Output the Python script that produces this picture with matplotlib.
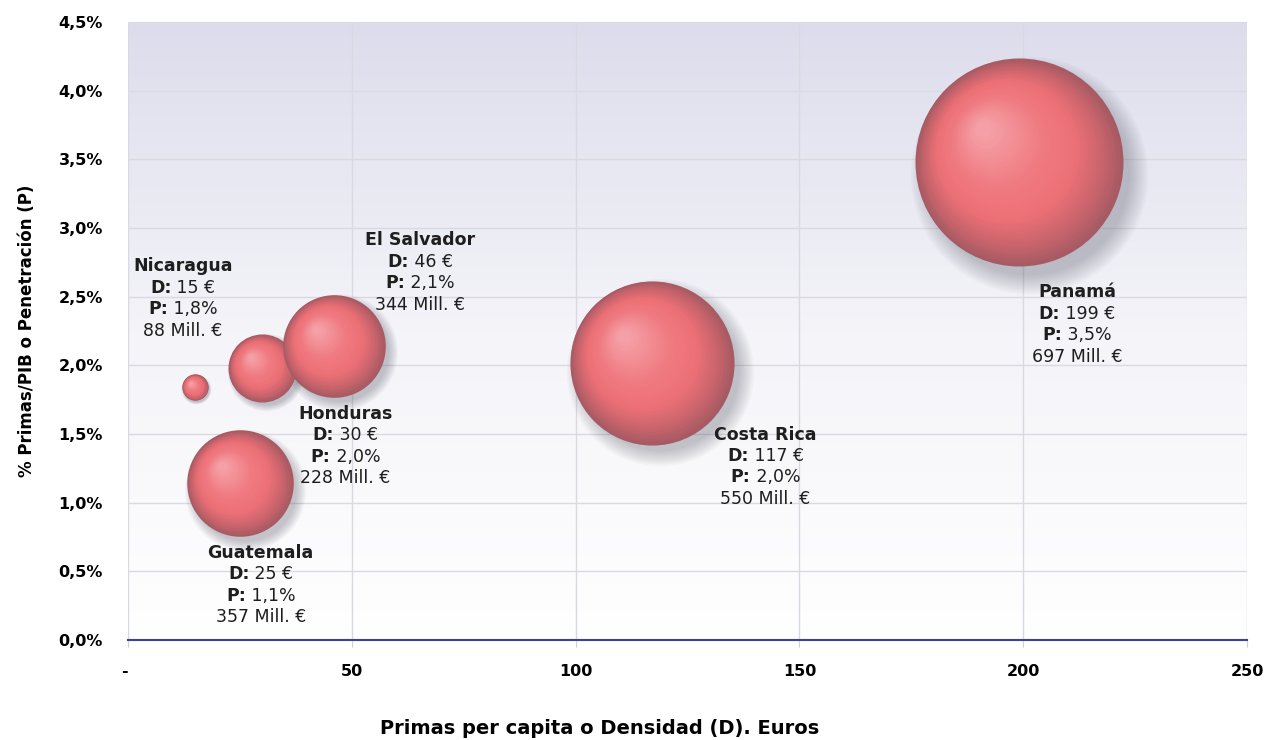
import matplotlib
matplotlib.use("Agg")
import matplotlib.pyplot as plt
import matplotlib.transforms as mtransforms
from matplotlib.offsetbox import TextArea, HPacker, VPacker, AnnotationBbox
from matplotlib.colors import LinearSegmentedColormap
import numpy as np

# data
countries = ["Nicaragua", "Honduras", "El Salvador", "Guatemala", "Costa Rica", "Panamá"]
densidad = [15, 30, 46, 25, 117, 199]            # D, euros per capita
penetracion = [1.84, 1.98, 2.14, 1.14, 2.02, 3.48]  # P, % of GDP
primas = [88, 228, 344, 357, 550, 697]           # Mill. euros (bubble size)

x_ticks = [0, 50, 100, 150, 200, 250]
y_ticks = [0.0, 0.5, 1.0, 1.5, 2.0, 2.5, 3.0, 3.5, 4.0, 4.5]

# label block offsets from bubble centre, in points
label_offsets = [(-9, 64), (60, -56), (62, 53), (15, -73), (82, -75), (42, -117)]

plt.rcParams['font.family'] = ['DejaVu Sans']

fig = plt.figure(figsize=(12.66, 7.40), dpi=100)
ax = fig.add_axes([128/1266, 100/740, 1119/1266, 618/740])

# background gradient (lavender top -> white bottom)
grad = np.linspace(0, 1, 256).reshape(-1, 1)
bg = LinearSegmentedColormap.from_list("bg", ["#ffffff", "#f4f4f9", "#dddcec"])
ax.imshow(grad, extent=[0, 1, 0, 1], transform=ax.transAxes, aspect='auto',
          cmap=bg, origin='lower', zorder=0)

ax.set_axisbelow(True)
ax.grid(True, color="#d9d9e2", linewidth=1)

# sphere shading colours
sphere = LinearSegmentedColormap.from_list(
    "sphere", [(0, "#a65a63"), (0.15, "#c9646c"), (0.35, "#ec7076"),
               (0.6, "#ef7a80"), (1, "#f4a0a6")])

px_per_val = 104 / 697.0  # bubble radius in pixels per Mill. euro
txt_col = "#1e1e1e"

for i, name in enumerate(countries):
    x, y = densidad[i], penetracion[i]
    D = 2 * primas[i] * px_per_val * 72 / 100.0  # diameter in points

    # soft shadow
    for j in range(10):
        tr = mtransforms.offset_copy(ax.transData, fig=fig, x=0.05*D, y=-0.06*D, units='points')
        ax.scatter([x], [y], s=(D*(0.96 + 0.02*j))**2, color="#505060",
                   alpha=0.035, linewidths=0, transform=tr, zorder=2)

    n = 50
    for k in range(n):
        t = k / (n - 1)
        d = D * (1 - 0.92 * t)
        tr = mtransforms.offset_copy(ax.transData, fig=fig, x=-0.17*D*t, y=0.16*D*t, units='points')
        ax.scatter([x], [y], s=d**2, color=sphere(t), linewidths=0,
                   transform=tr, zorder=3)

    # label block
    p_txt = f"{penetracion[i]:.1f}%".replace(".", ",")
    lines = [
        TextArea(name, textprops=dict(fontsize=12.5, fontweight='bold', color=txt_col)),
        HPacker(children=[TextArea("D:", textprops=dict(fontsize=12.5, fontweight='bold', color=txt_col)),
                          TextArea(f" {densidad[i]} €", textprops=dict(fontsize=12.5, color=txt_col))],
                align="baseline", pad=0, sep=0),
        HPacker(children=[TextArea("P:", textprops=dict(fontsize=12.5, fontweight='bold', color=txt_col)),
                          TextArea(f" {p_txt}", textprops=dict(fontsize=12.5, color=txt_col))],
                align="baseline", pad=0, sep=0),
        TextArea(f"{primas[i]} Mill. €", textprops=dict(fontsize=12.5, color=txt_col)),
    ]
    box = VPacker(children=lines, align="center", pad=0, sep=2.5)
    ab = AnnotationBbox(box, (x, y), xybox=label_offsets[i], xycoords='data',
                        boxcoords='offset points', frameon=False, zorder=5)
    ax.add_artist(ab)

ax.set_xlim(0, 250)
ax.set_ylim(0, 4.5)
ax.set_xticks(x_ticks)
ax.set_yticks(y_ticks)
ax.set_xticklabels(["-" if v == 0 else str(v) for v in x_ticks], fontsize=11.5, fontweight='bold')
ax.set_yticklabels([f"{v:.1f}%".replace(".", ",") for v in y_ticks], fontsize=11.5, fontweight='bold')
ax.get_xticklabels()[0].set_horizontalalignment('right')
ax.tick_params(axis='x', length=5, color="#cfcfdc", pad=12)
ax.tick_params(axis='y', length=0, pad=18)

for s in ["top", "right", "left"]:
    ax.spines[s].set_visible(False)
ax.spines["bottom"].set_color("#3b3fa0")
ax.spines["bottom"].set_linewidth(1.5)
ax.spines["bottom"].set_zorder(4)

ax.set_ylabel("% Primas/PIB o Penetración (P)", fontsize=12, fontweight='bold', labelpad=16)
fig.text(600/1266, 12/740, "Primas per capita o Densidad (D). Euros",
         fontsize=14, fontweight='bold', ha='center', va='center')

fig.savefig("out.png", dpi=100)
